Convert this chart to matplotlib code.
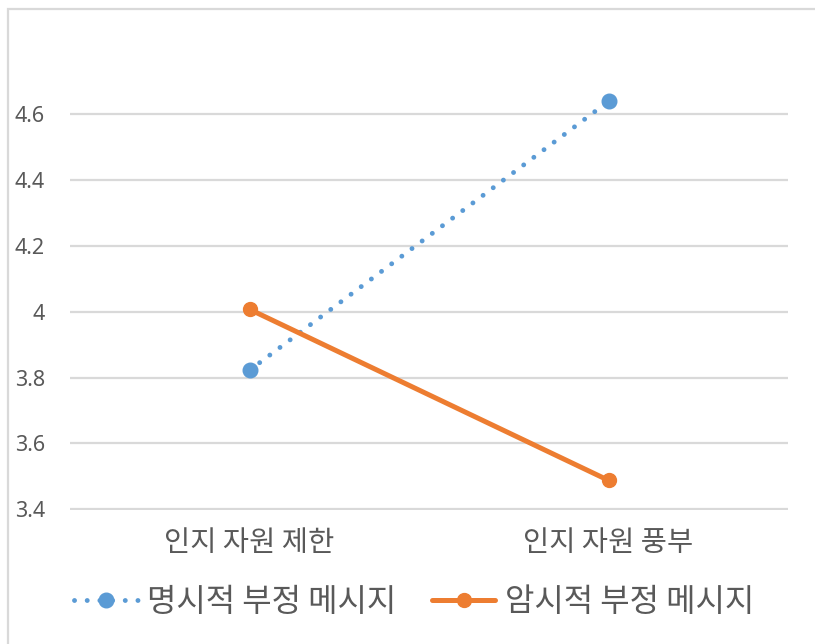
import numpy as np
import matplotlib
matplotlib.use("Agg")
import matplotlib.pyplot as plt
from matplotlib.patches import Rectangle

# 데이터
categories = ["인지 자원 제한", "인지 자원 풍부"]
explicit_vals = [3.822, 4.638]   # 명시적 부정 메시지
implicit_vals = [4.007, 3.488]   # 암시적 부정 메시지
series_names = ["명시적 부정 메시지", "암시적 부정 메시지"]
y_ticks = [3.4, 3.6, 3.8, 4.0, 4.2, 4.4, 4.6]
y_tick_labels = ["3.4", "3.6", "3.8", "4", "4.2", "4.4", "4.6"]

BLUE = "#5B9BD5"
ORANGE = "#ED7D31"
TEXT = "#595959"
GRID = "#D9D9D9"
KR = ["Noto Sans CJK KR", "DejaVu Sans"]

fig = plt.figure(figsize=(8.15, 6.44), dpi=100)
ax = fig.add_axes([70 / 815, 1 - 510 / 644, (788 - 70) / 815, (510 - 48) / 644])

x = np.arange(len(categories))
ax.plot(x, explicit_vals, color=BLUE, lw=3.5, linestyle=(0, (0.01, 2.6)),
        dash_capstyle="round", marker="o", markersize=10.5,
        markerfacecolor=BLUE, markeredgecolor=BLUE, label=series_names[0], zorder=3)
ax.plot(x, implicit_vals, color=ORANGE, lw=3.6, solid_capstyle="round",
        marker="o", markersize=10, markerfacecolor=ORANGE,
        markeredgecolor=ORANGE, label=series_names[1], zorder=4)

ax.set_xlim(-0.5, 1.5)
ax.set_ylim(3.398, 4.8)
ax.set_yticks(y_ticks)
ax.set_yticklabels(y_tick_labels, fontsize=15.5, color=TEXT, family="Noto Sans")
ax.set_xticks(x)
ax.set_xticklabels(categories, fontsize=20.5, color=TEXT, family=KR)
ax.tick_params(axis="y", length=0, pad=18)
ax.tick_params(axis="x", length=0, pad=13)
ax.grid(axis="y", color=GRID, lw=1.6)
ax.set_axisbelow(True)
for s in ax.spines.values():
    s.set_visible(False)

leg = fig.legend(loc="center", bbox_to_anchor=(0.508, 0.065), ncol=2, frameon=False,
                 prop={"family": KR, "size": 23}, labelcolor=TEXT,
                 handlelength=2.0, handletextpad=0.3, columnspacing=1.1)

# 차트 테두리
fig.patches.append(Rectangle((8 / 815, -0.1), 1.2, 1.1 - 9 / 644, transform=fig.transFigure,
                             fill=False, edgecolor=GRID, lw=1.6))

fig.savefig("out.png", dpi=100)
